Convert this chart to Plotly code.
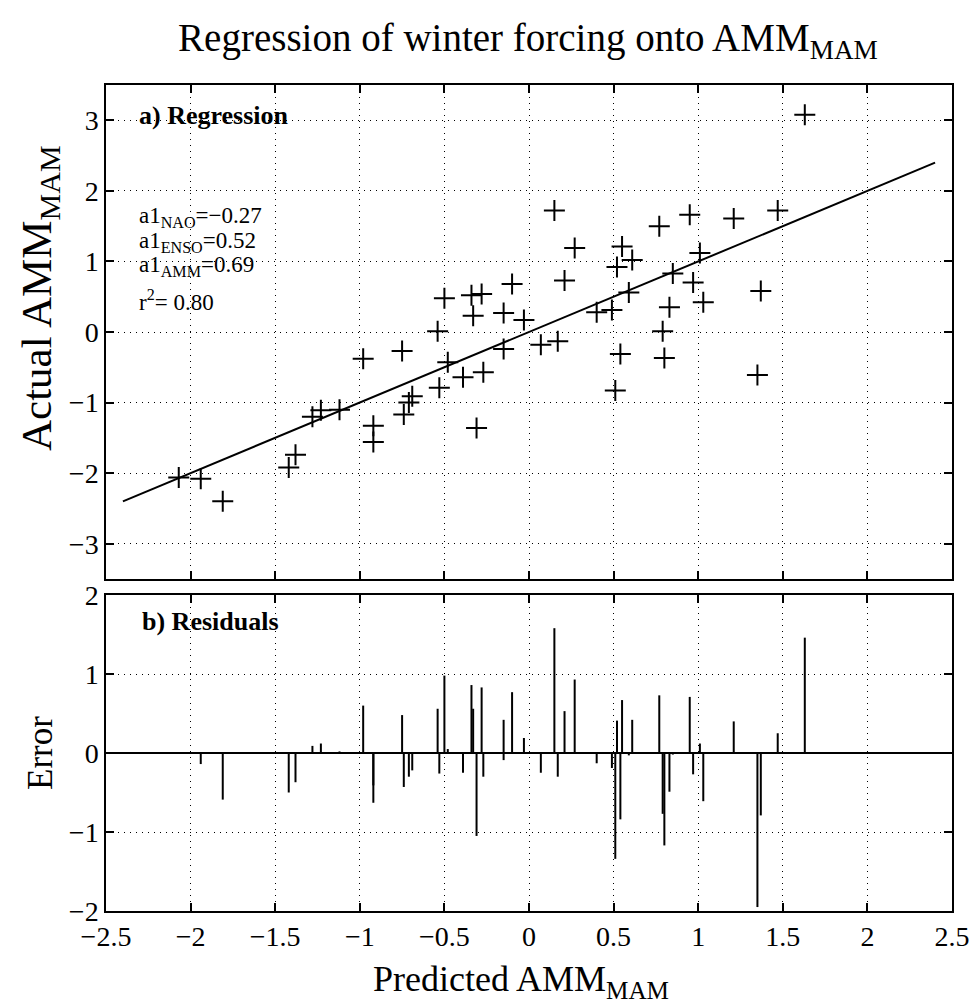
import plotly.graph_objects as go

# ---- data ----
predicted = [-2.07, -1.94, -1.81, -1.42, -1.38, -1.28, -1.23, -1.12, -0.98, -0.92,
             -0.92, -0.75, -0.74, -0.71, -0.69, -0.54, -0.53, -0.50, -0.48, -0.39,
             -0.34, -0.28, -0.33, -0.31, -0.27, -0.15, -0.15, -0.10, -0.03, 0.07,
             0.15, 0.17, 0.21, 0.27, 0.40, 0.49, 0.51, 0.52, 0.54, 0.55,
             0.59, 0.61, 0.77, 0.79, 0.80, 0.83, 0.85, 0.95, 0.97, 1.01,
             1.03, 1.21, 1.35, 1.37, 1.47, 1.63]
actual = [-2.06, -2.08, -2.40, -1.92, -1.74, -1.20, -1.11, -1.10, -0.38, -1.33,
          -1.56, -0.27, -1.17, -1.00, -0.91, 0.01, -0.79, 0.48, -0.43, -0.64,
          0.52, 0.54, 0.23, -1.36, -0.57, 0.27, -0.24, 0.68, 0.17, -0.18,
          1.72, -0.13, 0.73, 1.19, 0.28, 0.31, -0.83, 0.92, -0.31, 1.21,
          0.56, 1.02, 1.50, 0.01, -0.37, 0.35, 0.83, 1.66, 0.70, 1.12,
          0.42, 1.61, -0.61, 0.58, 1.72, 3.08]
residuals = [0.01, -0.14, -0.59, -0.50, -0.37, 0.09, 0.12, 0.02, 0.60, -0.41,
             -0.63, 0.48, -0.43, -0.30, -0.22, 0.56, -0.26, 0.98, 0.05, -0.25,
             0.86, 0.83, 0.56, -1.05, -0.30, 0.42, -0.09, 0.77, 0.19, -0.25,
             1.58, -0.30, 0.53, 0.93, -0.13, -0.19, -1.34, 0.41, -0.84, 0.67,
             -0.03, 0.42, 0.73, -0.77, -1.17, -0.49, -0.02, 0.71, -0.27, 0.12,
             -0.61, 0.40, -1.95, -0.79, 0.25, 1.46]
fit_x = [-2.4, 2.4]
fit_y = [-2.4, 2.4]

x_ticks = [-2.5, -2, -1.5, -1, -0.5, 0, 0.5, 1, 1.5, 2, 2.5]
x_ticklabels = ["−2.5", "−2", "−1.5", "−1", "−0.5", "0", "0.5", "1", "1.5", "2", "2.5"]
y1_ticks = [-3, -2, -1, 0, 1, 2, 3]
y1_ticklabels = ["−3", "−2", "−1", "0", "1", "2", "3"]
y2_ticks = [-2, -1, 0, 1, 2]
y2_ticklabels = ["−2", "−1", "0", "1", "2"]

coef_lines = ["a1<sub>NAO</sub>=−0.27", "a1<sub>ENSO</sub>=0.52",
              "a1<sub>AMM</sub>=0.69", "r<sup>2</sup>= 0.80"]

# ---- layout geometry ----
W, H = 971, 1005
L, R, T, B = 106, 19, 85, 94
PW, PH = W - L - R, H - T - B
def px(x):
    return (x - L) / PW
def py(y):
    return (H - B - y) / PH

FONT = "Liberation Serif, Times New Roman, serif"

# build stems
stem_x, stem_y = [], []
for xv, rv in zip(predicted, residuals):
    stem_x += [xv, xv, None]
    stem_y += [0, rv, None]

fig = go.Figure()
fig.add_trace(go.Scatter(x=fit_x, y=fit_y, mode="lines",
                         line=dict(color="black", width=2),
                         xaxis="x", yaxis="y", showlegend=False))
fig.add_trace(go.Scatter(x=predicted, y=actual, mode="markers",
                         marker=dict(symbol="cross-thin", size=15,
                                     line=dict(color="black", width=2)),
                         xaxis="x", yaxis="y", showlegend=False))
fig.add_trace(go.Scatter(x=stem_x, y=stem_y, mode="lines",
                         line=dict(color="black", width=2),
                         xaxis="x2", yaxis="y2", showlegend=False))

axis_common = dict(showline=True, linecolor="black", linewidth=1.5, mirror="ticks",
                   ticks="inside", ticklen=8, tickwidth=1.5, tickcolor="black",
                   showgrid=True, gridcolor="black", gridwidth=1, griddash="1px,5px",
                   zeroline=False, ticklabeloverflow="allow",
                   tickfont=dict(family=FONT, size=28, color="black"))

top_dom = [py(579), 1.0]
bot_dom = [0.0, py(595)]

fig.update_layout(
    width=W, height=H,
    margin=dict(l=L, r=R, t=T, b=B, autoexpand=False),
    paper_bgcolor="white", plot_bgcolor="white",
    font=dict(family=FONT, color="black"),
    title=dict(text="Regression of winter forcing onto AMM<sub>MAM</sub>",
               x=528 / W, xanchor="center", xref="container",
               y=1 - 37 / H, yanchor="middle",
               font=dict(family=FONT, size=39, color="black")),
    xaxis=dict(axis_common, domain=[0, 1], range=[-2.5, 2.5], tickvals=x_ticks,
               showticklabels=False, anchor="y"),
    yaxis=dict(axis_common, domain=top_dom, range=[-3.5, 3.5], tickvals=y1_ticks,
               ticktext=y1_ticklabels, anchor="x"),
    xaxis2=dict(axis_common, domain=[0, 1], range=[-2.5, 2.5], tickvals=x_ticks,
                ticktext=x_ticklabels, anchor="y2"),
    yaxis2=dict(axis_common, domain=bot_dom, range=[-2, 2], tickvals=y2_ticks,
                ticktext=y2_ticklabels, anchor="x2",
                zeroline=True, zerolinecolor="black", zerolinewidth=1.5),
)

annotations = [
    dict(text="<b>a) Regression</b>", x=px(137), y=py(116), xref="paper", yref="paper",
         xanchor="left", yanchor="middle", showarrow=False,
         font=dict(family=FONT, size=26, color="black")),
    dict(text="<b>b) Residuals</b>", x=px(140), y=py(621), xref="paper", yref="paper",
         xanchor="left", yanchor="middle", showarrow=False,
         font=dict(family=FONT, size=26, color="black")),
    # axis titles
    dict(text="Actual AMM<sub>MAM</sub>", x=px(40), y=py(298), xref="paper", yref="paper",
         xanchor="center", yanchor="middle", textangle=-90, showarrow=False,
         font=dict(family=FONT, size=43, color="black")),
    dict(text="Error", x=px(40), y=py(753), xref="paper", yref="paper",
         xanchor="center", yanchor="middle", textangle=-90, showarrow=False,
         font=dict(family=FONT, size=35, color="black")),
    dict(text="Predicted AMM<sub>MAM</sub>", x=px(521), y=py(981), xref="paper", yref="paper",
         xanchor="center", yanchor="middle", showarrow=False,
         font=dict(family=FONT, size=36, color="black")),
]
line_y = [217, 242, 266, 300]
for txt, yy in zip(coef_lines, line_y):
    annotations.append(dict(text=txt, x=px(137), y=py(yy), xref="paper", yref="paper",
                            xanchor="left", yanchor="middle", showarrow=False,
                            font=dict(family=FONT, size=23, color="black")))
fig.update_layout(annotations=annotations)

fig.write_html("out.html", config={"displayModeBar": False},
               post_script="document.body.style.margin='0px';")
